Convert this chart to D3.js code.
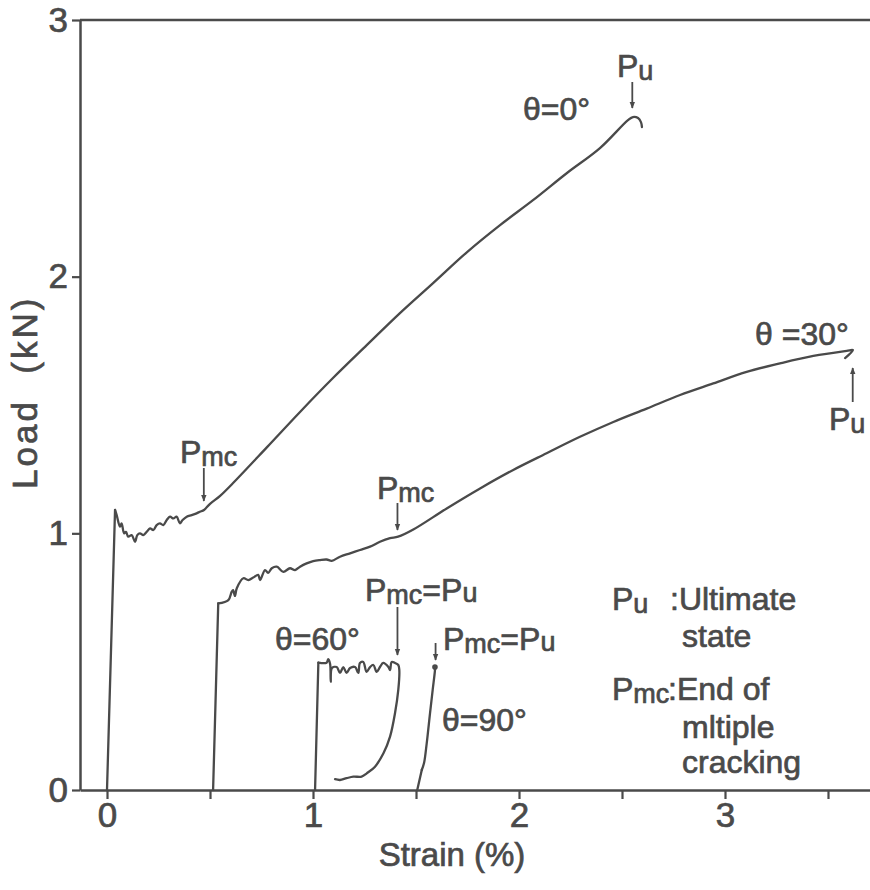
<!DOCTYPE html>
<html>
<head>
<meta charset="utf-8">
<script src="https://cdn.jsdelivr.net/npm/d3@7"></script>
<style>
  html, body { margin: 0; padding: 0; background: #fff; }
  svg { display: block; }
  text { font-family: "Liberation Sans", Arial, sans-serif; fill: #4a4a4a; stroke: #4a4a4a; stroke-width: 0.7px; }
</style>
</head>
<body>
<svg id="chart" width="870" height="890"></svg>
<script>
// ---------------- data (strain %, load kN) ----------------
const xTicks = [0, 0.5, 1, 1.5, 2, 2.5, 3, 3.5];
const xTickLabels = ["0", "", "1", "", "2", "", "3", ""];
const yTicks = [0, 1, 2, 3];
const yTickLabels = ["0", "1", "2", "3"];

const theta0 = [
  [0.000, 0.000], [0.039, 1.091], [0.047, 1.071], [0.063, 1.026], [0.071, 1.039],
  [0.083, 1.000], [0.092, 1.006], [0.103, 0.987], [0.120, 0.993], [0.136, 0.967],
  [0.147, 0.993], [0.160, 1.000], [0.176, 0.993], [0.193, 1.006], [0.209, 1.019],
  [0.225, 1.013], [0.241, 1.032], [0.257, 1.039], [0.273, 1.032], [0.290, 1.052],
  [0.306, 1.065], [0.322, 1.058], [0.338, 1.065], [0.354, 1.039], [0.367, 1.052],
  [0.387, 1.065], [0.411, 1.071], [0.435, 1.078], [0.451, 1.084], [0.471, 1.091],
  [0.500, 1.115], [0.549, 1.146], [0.612, 1.196], [0.777, 1.336], [0.937, 1.473],
  [1.097, 1.605], [1.262, 1.734], [1.422, 1.858], [1.583, 1.975], [1.748, 2.096],
  [1.908, 2.201], [2.068, 2.298], [2.233, 2.404], [2.393, 2.501], [2.529, 2.610],
  [2.553, 2.622], [2.578, 2.618], [2.592, 2.602], [2.597, 2.583]
];

const theta30 = [
  [0.515, 0.000], [0.540, 0.727], [0.589, 0.740], [0.605, 0.772], [0.612, 0.779],
  [0.621, 0.756], [0.630, 0.786], [0.662, 0.825], [0.686, 0.818], [0.710, 0.828],
  [0.734, 0.838], [0.743, 0.818], [0.767, 0.857], [0.782, 0.846], [0.800, 0.864],
  [0.824, 0.870], [0.856, 0.850], [0.888, 0.864], [0.913, 0.857], [0.937, 0.870],
  [0.969, 0.883], [1.001, 0.892], [1.034, 0.896], [1.066, 0.898], [1.091, 0.893],
  [1.131, 0.909], [1.180, 0.922], [1.228, 0.935], [1.277, 0.948], [1.325, 0.967],
  [1.374, 0.981], [1.413, 0.987], [1.487, 1.015], [1.649, 1.097], [1.811, 1.175],
  [1.972, 1.247], [2.134, 1.312], [2.296, 1.376], [2.458, 1.434], [2.620, 1.486],
  [2.782, 1.539], [2.943, 1.584], [3.105, 1.629], [3.267, 1.662], [3.429, 1.691],
  [3.591, 1.711], [3.621, 1.714], [3.583, 1.683]
];

const theta60 = [
  [1.010, 0.000], [1.026, 0.496], [1.066, 0.496], [1.074, 0.510], [1.083, 0.491],
  [1.086, 0.422], [1.092, 0.475], [1.115, 0.479], [1.131, 0.456], [1.147, 0.479],
  [1.163, 0.456], [1.180, 0.475], [1.204, 0.479], [1.220, 0.456], [1.228, 0.495],
  [1.244, 0.499], [1.260, 0.460], [1.277, 0.479], [1.293, 0.487], [1.309, 0.460],
  [1.325, 0.479], [1.341, 0.495], [1.366, 0.479], [1.374, 0.467], [1.382, 0.499],
  [1.398, 0.495], [1.414, 0.487], [1.419, 0.467], [1.414, 0.390], [1.398, 0.299],
  [1.374, 0.208], [1.342, 0.143], [1.301, 0.091], [1.261, 0.065], [1.236, 0.052],
  [1.196, 0.052], [1.163, 0.046], [1.131, 0.039], [1.107, 0.042]
];

const theta90 = [
  [1.506, 0.000], [1.528, 0.078], [1.539, 0.105], [1.552, 0.182], [1.568, 0.299],
  [1.581, 0.390], [1.592, 0.467], [1.592, 0.479]
];

const seriesNames = ["θ=0°", "θ =30°", "θ=60°", "θ=90°"];

// ---------------- drawing ----------------
const ink = "#4a4a4a";
const svg = d3.select("#chart");

const x = d3.scaleLinear().domain([-0.1311, 3.7039]).range([80, 870]);
const y = d3.scaleLinear().domain([0, 3]).range([790, 20]);

// arrow marker
svg.append("defs").append("marker")
  .attr("id", "arr").attr("viewBox", "0 0 10 10")
  .attr("refX", 9).attr("refY", 5)
  .attr("markerWidth", 7).attr("markerHeight", 7)
  .attr("markerUnits", "userSpaceOnUse")
  .attr("orient", "auto")
  .append("path").attr("d", "M0,1 L10,5 L0,9 Z").attr("fill", ink);

// x axis
const xAxis = svg.append("g")
  .attr("transform", `translate(0,${y(0)})`)
  .call(d3.axisBottom(x).tickValues(xTicks)
    .tickFormat((d, i) => xTickLabels[i]).tickSize(9).tickSizeOuter(0).tickPadding(3));
xAxis.select(".domain").attr("stroke", ink).attr("stroke-width", 2.5);
xAxis.selectAll(".tick line").attr("stroke", ink).attr("stroke-width", 2.2);
xAxis.selectAll(".tick text").attr("fill", ink).attr("font-size", 35)
  .attr("font-family", "Liberation Sans, Arial, sans-serif");

// y axis
const yAxis = svg.append("g")
  .attr("transform", `translate(${x(-0.1311)},0)`)
  .call(d3.axisLeft(y).tickValues(yTicks)
    .tickFormat((d, i) => yTickLabels[i]).tickSize(8).tickSizeOuter(0).tickPadding(4));
yAxis.select(".domain").attr("stroke", ink).attr("stroke-width", 2.5);
yAxis.selectAll(".tick line").attr("stroke", ink).attr("stroke-width", 2.2);
yAxis.selectAll(".tick text").attr("fill", ink).attr("font-size", 35)
  .attr("font-family", "Liberation Sans, Arial, sans-serif");

// top frame line
svg.append("line")
  .attr("x1", x(-0.1311)).attr("x2", 870)
  .attr("y1", y(3)).attr("y2", y(3))
  .attr("stroke", ink).attr("stroke-width", 2.5);

// curves: sharp initial loading segment, smooth remainder
const lineStraight = d3.line().x(d => x(d[0])).y(d => y(d[1])).curve(d3.curveLinear);
const lineSmooth = d3.line().x(d => x(d[0])).y(d => y(d[1])).curve(d3.curveCatmullRom.alpha(0.5));
[theta0, theta30, theta60, theta90].forEach(s => {
  const g = svg.append("g").attr("fill", "none").attr("stroke", ink)
    .attr("stroke-width", 2.3).attr("stroke-linejoin", "round").attr("stroke-linecap", "round");
  g.append("path").datum(s.slice(0, 2)).attr("d", lineStraight);
  g.append("path").datum(s.slice(1)).attr("d", lineSmooth);
});
// end blob on theta=90
const t90end = theta90[theta90.length - 1];
svg.append("circle").attr("cx", x(t90end[0])).attr("cy", y(t90end[1])).attr("r", 2.8).attr("fill", ink);

// axis titles
svg.append("text").attr("x", 452).attr("y", 866).attr("text-anchor", "middle")
  .attr("font-size", 33).text("Strain (%)");
svg.append("text").attr("transform", "translate(37,489) rotate(-90)")
  .attr("text-anchor", "start").attr("font-size", 35)
  .attr("letter-spacing", 3)
  .style("white-space", "pre").text("Load  (kN)");

// helper for P with subscript
function pLabel(xp, yp, sub, rest) {
  const t = svg.append("text").attr("x", xp).attr("y", yp).attr("font-size", 32);
  t.append("tspan").text("P");
  t.append("tspan").attr("font-size", 27).attr("dy", 3).text(sub);
  if (rest) {
    t.append("tspan").attr("font-size", 32).attr("dy", -3).text("=P");
    t.append("tspan").attr("font-size", 27).attr("dy", 1).text(rest);
  }
  return t;
}
function arrow(x1, y1, x2, y2) {
  svg.append("line").attr("x1", x1).attr("y1", y1).attr("x2", x2).attr("y2", y2)
    .attr("stroke", ink).attr("stroke-width", 1.8).attr("marker-end", "url(#arr)");
}
function label(xp, yp, txt) {
  svg.append("text").attr("x", xp).attr("y", yp).attr("font-size", 32)
    .style("white-space", "pre").text(txt);
}

// theta = 0
label(523, 120, seriesNames[0]);
pLabel(617, 77, "u");
arrow(x(2.55), 82, x(2.55), 108);
pLabel(180, 463, "mc");
arrow(x(0.47), 468, x(0.47), 501);

// theta = 30
label(755, 345, seriesNames[1]);
pLabel(829, 430, "u");
arrow(x(3.62), 402, x(3.62), 368);
pLabel(377, 499, "mc");
arrow(x(1.41), 503, x(1.41), 530);

// theta = 60
label(275, 650, seriesNames[2]);
pLabel(365, 601, "mc", "u");
arrow(x(1.41), 607, x(1.41), 655);

// theta = 90
label(442, 731, seriesNames[3]);
pLabel(443, 650, "mc", "u");
arrow(x(1.595), 643, x(1.595), 660);

// legend
pLabel(612, 610, "u");
label(670, 610, ":Ultimate");
label(682, 647, "state");
pLabel(612, 700, "mc");
label(668, 700, ":End of");
label(682, 738, "mltiple");
label(682, 773, "cracking");
</script>
</body>
</html>
